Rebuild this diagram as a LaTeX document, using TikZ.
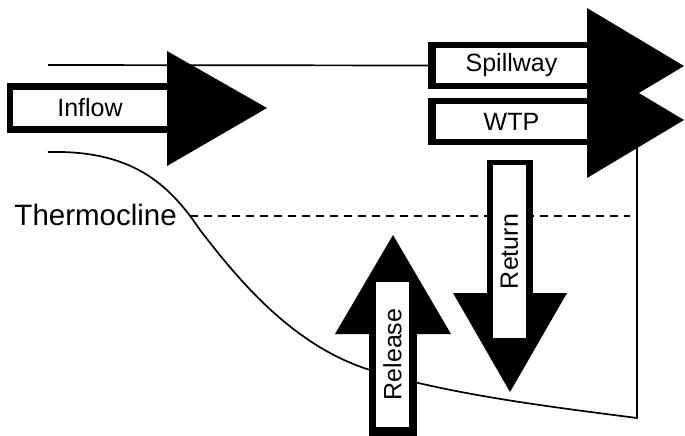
\documentclass[tikz,border=0pt]{standalone}
\usepackage{fontspec}
\setmainfont{Liberation Sans}
\begin{document}
\begin{tikzpicture}[x=1pt,y=-1pt,
  thinline/.style={line width=1.7pt},
  labelbox/.style={fill=white,inner sep=0pt,outer sep=0pt,font=\fontsize{25}{30}\selectfont},
  arrowbody/.style={fill=black}]
\useasboundingbox (0,0) rectangle (685,436);
% ---- background lines ----
\coordinate (topL) at (48,65);
\coordinate (curveS) at (48,152);
\coordinate (curveM) at (200,230);
\coordinate (curveN) at (370,370);
\coordinate (curveE) at (637,418);
\coordinate (wallT) at (637,140);
\coordinate (dashS) at (190,216);
\coordinate (dashE) at (630,216);
\draw[thinline] (curveS) .. controls (130,150) and (168,182) .. (curveM)
  .. controls (235,275) and (290,345) .. (curveN)
  .. controls (450,395) and (560,408) .. (curveE) -- (wallT);
\draw[thinline,dash pattern=on 8pt off 6pt] (dashS) -- (dashE);
\node[anchor=base east,inner sep=0pt,font=\fontsize{29.5}{34}\selectfont] (thermo) at (177,225) {Thermocline};
% ---- Spillway ----
\fill[arrowbody] (428,42) rectangle (587,89);
\fill[arrowbody] (587,8) -- (684,66) -- (587,124) -- cycle;
\node[labelbox,minimum width=151pt,minimum height=35pt] (spill) at (511.5,65.5) {Spillway};
\draw[thinline] (topL) -- (spill.west -| 428,0);
% ---- WTP ----
\fill[arrowbody] (428,98) rectangle (587,145);
\fill[arrowbody] (587,62) -- (684,120) -- (587,178) -- cycle;
\node[labelbox,minimum width=151pt,minimum height=35pt] (wtp) at (511.5,121.5) {WTP};
% ---- Inflow ----
\fill[arrowbody] (7,83) rectangle (167,133);
\fill[arrowbody] (167,51) -- (267,108) -- (167,166) -- cycle;
\node[labelbox,minimum width=154pt,minimum height=36pt] (inflow) at (90,108) {Inflow};
% ---- Return ----
\fill[arrowbody] (487,160) rectangle (533,293);
\fill[arrowbody] (453,293) -- (567,293) -- (510,392) -- cycle;
\node[labelbox,rotate=90,minimum width=173pt,minimum height=33pt] (return) at (509.5,251.5) {Return};
% ---- Release ----
\fill[arrowbody] (369,334) rectangle (417,436);
\fill[arrowbody] (335,334) -- (451,334) -- (393,235) -- cycle;
\node[labelbox,rotate=90,minimum width=145pt,minimum height=33pt] (release) at (392.5,354.5) {Release};
\end{tikzpicture}
\end{document}
